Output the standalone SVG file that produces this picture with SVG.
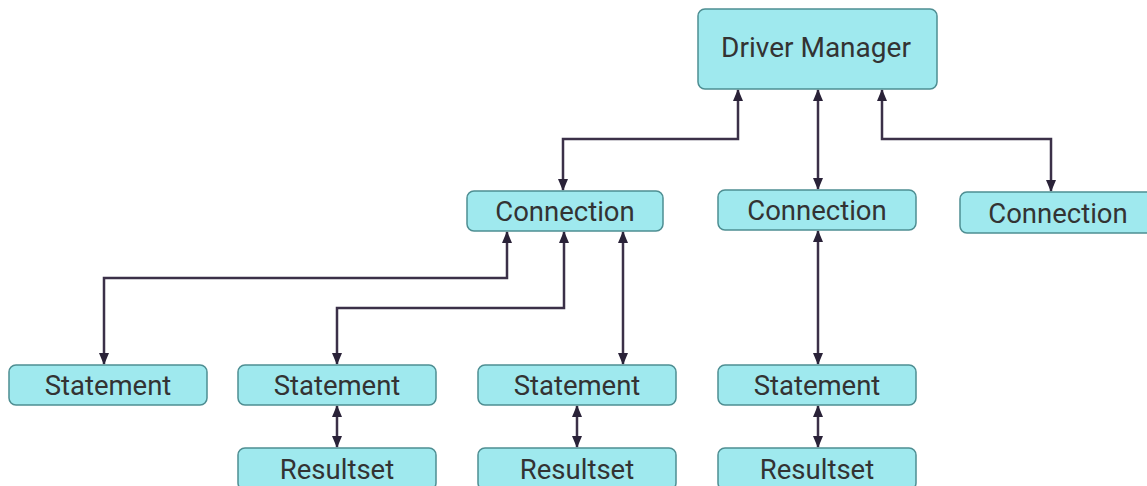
<svg xmlns="http://www.w3.org/2000/svg" width="1147" height="486" viewBox="0 0 1147 486">
<style>
.n rect{fill:#9fe9ee;stroke:#4e8e92;stroke-width:1.5}
.n text{font-family:Roboto,"Liberation Sans",sans-serif;font-size:27.5px;fill:#333;text-anchor:middle;dominant-baseline:central}
.c path{fill:none;stroke:#3b3048;stroke-width:2.5;marker-start:url(#a);marker-end:url(#a)}
</style>
<defs>
<marker id="a" viewBox="0 0 12 10" refX="11" refY="5" markerWidth="12" markerHeight="10" markerUnits="userSpaceOnUse" orient="auto-start-reverse">
<path d="M0,0 L12,5 L0,10 Z" fill="#2a2238"/>
</marker>
</defs>
<rect width="1147" height="486" fill="#fff"/>
<g class="c" id="connectors">
<path d="M563,190 V139 H738 V90"/>
<path d="M818,189 V90"/>
<path d="M1051,191 V139 H882 V90"/>
<path d="M104,364 V278 H507 V232"/>
<path d="M337,364 V308 H564 V232"/>
<path d="M623,364 V232"/>
<path d="M818,364 V231"/>
<path d="M337,447 V406"/>
<path d="M577,447 V406"/>
<path d="M818,447 V406"/>
</g>
<g class="n" id="driver-manager"><rect x="698" y="9" width="239" height="80" rx="7"/><text x="816" y="47" style="font-size:28px">Driver Manager</text></g>
<g class="n" id="connection-1"><rect x="467" y="191" width="196" height="40" rx="7"/><text x="565" y="211">Connection</text></g>
<g class="n" id="connection-2"><rect x="718" y="190" width="198" height="40" rx="7"/><text x="817" y="210">Connection</text></g>
<g class="n" id="connection-3"><rect x="960" y="192" width="196" height="41" rx="7"/><text x="1058" y="213">Connection</text></g>
<g class="n" id="statement-1"><rect x="9" y="365" width="198" height="40" rx="7"/><text x="108" y="385">Statement</text></g>
<g class="n" id="statement-2"><rect x="238" y="365" width="198" height="40" rx="7"/><text x="337" y="385">Statement</text></g>
<g class="n" id="statement-3"><rect x="478" y="365" width="198" height="40" rx="7"/><text x="577" y="385">Statement</text></g>
<g class="n" id="statement-4"><rect x="718" y="365" width="198" height="40" rx="7"/><text x="817" y="385">Statement</text></g>
<g class="n" id="resultset-1"><rect x="238" y="448" width="198" height="42" rx="7"/><text x="337" y="469">Resultset</text></g>
<g class="n" id="resultset-2"><rect x="478" y="448" width="198" height="42" rx="7"/><text x="577" y="469">Resultset</text></g>
<g class="n" id="resultset-3"><rect x="718" y="448" width="198" height="42" rx="7"/><text x="817" y="469">Resultset</text></g>
</svg>
